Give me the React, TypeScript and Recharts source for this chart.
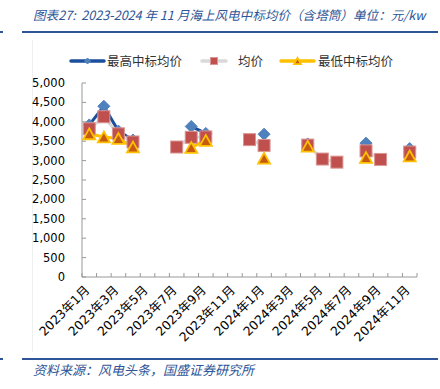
import { LineChart, Line, XAxis, YAxis } from "recharts";

const months = [
  "2023年1月", "2023年2月", "2023年3月", "2023年4月", "2023年5月", "2023年6月",
  "2023年7月", "2023年8月", "2023年9月", "2023年10月", "2023年11月", "2023年12月",
  "2024年1月", "2024年2月", "2024年3月", "2024年4月", "2024年5月", "2024年6月",
  "2024年7月", "2024年8月", "2024年9月", "2024年10月", "2024年11月",
];

const maxPrice = [3920, 4400, 3760, 3530, null, null, null, 3880, 3700, null, null, null, 3680, null, null, 3430, null, null, null, 3450, null, null, 3310];
const avgPrice = [3820, 4130, 3690, 3480, null, null, 3350, 3600, 3610, null, null, 3540, 3390, null, null, 3400, 3040, 2960, null, 3250, 3030, null, 3220];
const minPrice = [3690, 3610, 3570, 3350, null, null, null, 3340, 3520, null, null, null, 3060, null, null, 3370, null, null, null, 3080, null, null, 3120];

const yTicks = [0, 500, 1000, 1500, 2000, 2500, 3000, 3500, 4000, 4500, 5000];

const chartData = months.map((m, i) => ({
  month: m,
  max: maxPrice[i],
  avg: avgPrice[i],
  min: minPrice[i],
}));

const BLUE_TEXT = "#2E5597";
const CJK = '"Noto Sans CJK SC", "DejaVu Sans", sans-serif';
const NUM = '"DejaVu Sans", "Noto Sans CJK SC", sans-serif';

const PLOT_LEFT = 82;
const PLOT_RIGHT = 417;
const BAND = (PLOT_RIGHT - PLOT_LEFT) / months.length;

function Diamond({ cx, cy, r = 6 }: any) {
  return (
    <polygon
      points={`${cx},${cy - r} ${cx + r},${cy} ${cx},${cy + r} ${cx - r},${cy}`}
      fill="#4F81BD"
      stroke="#4F81BD"
      strokeWidth={1}
    />
  );
}

function Square({ cx, cy, s = 12 }: any) {
  return (
    <rect
      x={cx - s / 2}
      y={cy - s / 2}
      width={s}
      height={s}
      fill="#C0504D"
      stroke="#D99694"
      strokeWidth={1}
    />
  );
}

function Triangle({ cx, cy, s = 12 }: any) {
  const h = s * 0.9;
  return (
    <polygon
      points={`${cx},${cy - h / 2} ${cx + s / 2},${cy + h / 2} ${cx - s / 2},${cy + h / 2}`}
      fill="#C55A11"
      stroke="#FFC000"
      strokeWidth={1.8}
      strokeLinejoin="miter"
    />
  );
}

const makeDot = (Shape: any) => (props: any) => {
  const { cx, cy, index, value } = props;
  if (value == null || cy == null) return <g key={`d-${index}`} />;
  return (
    <g key={`d-${index}`}>
      <Shape cx={cx} cy={cy} />
    </g>
  );
};

function MonthTick(props: any) {
  const { x, y, payload, index } = props;
  const i = payload?.index ?? index;
  const last = i === months.length - 1;
  return (
    <g>
      <line x1={x - BAND / 2} x2={x - BAND / 2} y1={y} y2={y - 4} stroke="#999" />
      {last && <line x1={x + BAND / 2} x2={x + BAND / 2} y1={y} y2={y - 4} stroke="#999" />}
      {i % 2 === 0 && (
        <text
          x={x + 1}
          y={y + 14}
          transform={`rotate(-45, ${x + 1}, ${y + 14})`}
          textAnchor="end"
          fontSize={12.5}
          fontFamily={NUM}
          fill="#000"
        >
          {payload.value}
        </text>
      )}
    </g>
  );
}

function PriceTick(props: any) {
  const { x, y, payload } = props;
  return (
    <g>
      <line x1={x} x2={x + 4} y1={y} y2={y} stroke="#999" />
      <text x={x - 17} y={y + 4} textAnchor="end" fontSize={11.5} fontFamily={NUM} fill="#000">
        {payload.value.toLocaleString("en-US")}
      </text>
    </g>
  );
}

function LegendRow() {
  const items = [
    { label: "最高中标均价", line: "#1B4F9C", left: 71, lineW: 33, textX: 107, marker: "diamond" },
    { label: "均价", line: "#D9D9D9", left: 202, lineW: 24, textX: 238, marker: "square" },
    { label: "最低中标均价", line: "#FFC000", left: 281, lineW: 33, textX: 318, marker: "triangle" },
  ];
  return (
    <svg width={440} height={24} style={{ position: "absolute", left: 0, top: 49 }}>
      {items.map((it) => {
        const cx = it.left + it.lineW / 2;
        return (
          <g key={it.label}>
            <line x1={it.left} x2={it.left + it.lineW} y1={12} y2={12} stroke={it.line} strokeWidth={3.5} strokeLinecap="round" />
            {it.marker === "diamond" && <Diamond cx={cx} cy={12} r={3} />}
            {it.marker === "square" && <Square cx={cx} cy={12} s={7} />}
            {it.marker === "triangle" && <Triangle cx={cx} cy={12} s={7} />}
            <text x={it.textX} y={16.5} fontSize={12.5} fontFamily={CJK} fill="#333">
              {it.label}
            </text>
          </g>
        );
      })}
    </svg>
  );
}

export default function App() {
  return (
    <div style={{ position: "absolute", left: 0, top: 0, width: 440, height: 389, background: "#fff", overflow: "hidden" }}>
      <div
        style={{
          position: "absolute", left: 33, top: 6, fontSize: 12.6, lineHeight: "18px",
          fontFamily: CJK, fontStyle: "italic", color: BLUE_TEXT, whiteSpace: "nowrap",
        }}
      >
        图表27:&nbsp; 2023-2024 年 11 月海上风电中标均价（含塔筒）单位：元/kw
      </div>
      <div style={{ position: "absolute", left: 0, top: 31, width: 3, height: 2, background: BLUE_TEXT }} />
      <div style={{ position: "absolute", left: 22, top: 31, width: 416, height: 2, background: BLUE_TEXT }} />
      <div style={{ position: "absolute", left: 32, top: 40, width: 1, height: 312, background: "#F0F0F0" }} />

      <LegendRow />

      <div style={{ position: "absolute", left: 0, top: 0 }}>
        <LineChart
          width={440}
          height={389}
          data={chartData}
          margin={{ top: 83, right: 440 - PLOT_RIGHT, left: 0, bottom: 42 }}
        >
          <XAxis
            dataKey="month"
            scale="band"
            interval={0}
            height={70}
            tickSize={0}
            tickMargin={0}
            tickLine={false}
            stroke="#999"
            tick={<MonthTick />}
          />
          <YAxis
            domain={[0, 5000]}
            ticks={yTicks}
            width={PLOT_LEFT}
            tickSize={0}
            tickMargin={0}
            tickLine={false}
            stroke="#999"
            tick={<PriceTick />}
            interval={0}
          />
          <Line
            dataKey="max"
            stroke="#1B4F9C"
            strokeWidth={3}
            dot={makeDot(Diamond)}
            activeDot={false}
            isAnimationActive={false}
          />
          <Line
            dataKey="avg"
            stroke="#D9D9D9"
            strokeWidth={3}
            dot={makeDot(Square)}
            activeDot={false}
            isAnimationActive={false}
          />
          <Line
            dataKey="min"
            stroke="#FFC000"
            strokeWidth={3}
            dot={makeDot(Triangle)}
            activeDot={false}
            isAnimationActive={false}
          />
        </LineChart>
      </div>

      <div style={{ position: "absolute", left: 0, top: 358, width: 3, height: 2, background: BLUE_TEXT }} />
      <div style={{ position: "absolute", left: 22, top: 358, width: 416, height: 2, background: BLUE_TEXT }} />
      <div
        style={{
          position: "absolute", left: 33, top: 361, fontSize: 13, lineHeight: "17px",
          fontFamily: CJK, fontStyle: "italic", color: BLUE_TEXT, whiteSpace: "nowrap",
        }}
      >
        资料来源：风电头条，国盛证券研究所
      </div>
    </div>
  );
}
